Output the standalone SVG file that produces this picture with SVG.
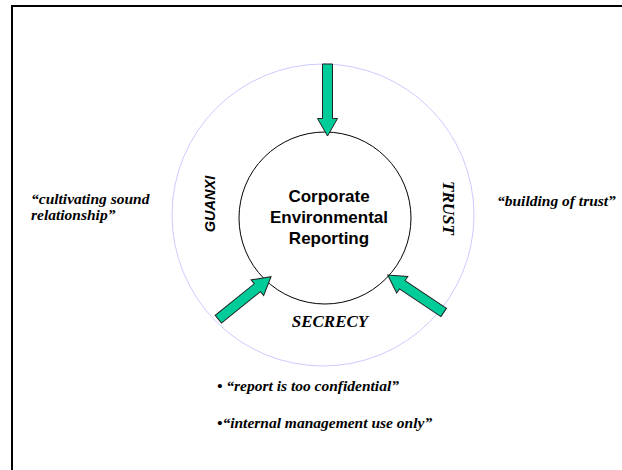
<svg xmlns="http://www.w3.org/2000/svg" width="622" height="470" viewBox="0 0 622 470">
<style>
.serif{font-family:"Liberation Serif","Times New Roman",serif;font-weight:bold;font-style:italic;fill:#000}
.sans{font-family:"Liberation Sans",Arial,sans-serif;font-weight:bold;fill:#000}
.arrow{fill:#00cc99;stroke:#222;stroke-width:1}
</style>
<rect width="622" height="470" fill="#fff"/>
<path d="M12,470 V6 H622" fill="none" stroke="#000" stroke-width="2"/>
<g id="outer-ring">
<circle cx="323" cy="215" r="151" fill="none" stroke="#ccccff" stroke-width="1"/>
</g>
<g id="core">
<circle cx="325" cy="218" r="86" fill="#fff" stroke="#000" stroke-width="1"/>
<text class="sans" font-size="17" text-anchor="middle"><tspan x="329" y="202">Corporate</tspan><tspan x="329" y="223">Environmental</tspan><tspan x="329" y="244">Reporting</tspan></text>
</g>
<g id="guanxi">
<text class="sans" font-size="14.5" font-style="italic" text-anchor="middle" transform="translate(215,204) rotate(-90)">GUANXI</text>
<text class="serif" font-size="15.5"><tspan x="31" y="204">“cultivating sound</tspan><tspan x="31" y="220">relationship”</tspan></text>
</g>
<g id="trust">
<text class="serif" font-size="17" text-anchor="middle" transform="translate(443,208) rotate(90)">TRUST</text>
<text class="serif" font-size="15.5" x="497" y="206">“building of trust”</text>
</g>
<g id="secrecy">
<text class="serif" font-size="17" text-anchor="middle" x="330" y="327">SECRECY</text>
<text class="serif" font-size="15.5" x="217" y="391">• “report is too confidential”</text>
<text class="serif" font-size="15.5" x="217" y="428">•“internal management use only”</text>
</g>
<g id="connectors">
<path class="arrow" d="M322.5,64 H332.5 V118.5 H337.5 L327.5,136 L317.5,118.5 H322.5 Z"/>
<g transform="translate(271,276.7) rotate(-38.9)"><path class="arrow" d="M0,0 L-17.5,10 V5 H-67.7 V-5 H-17.5 V-10 Z"/></g>
<g transform="translate(387.7,275) rotate(33.8)"><path class="arrow" d="M0,0 L17.5,10 V5 H67.4 V-5 H17.5 V-10 Z"/></g>
</g>
</svg>
